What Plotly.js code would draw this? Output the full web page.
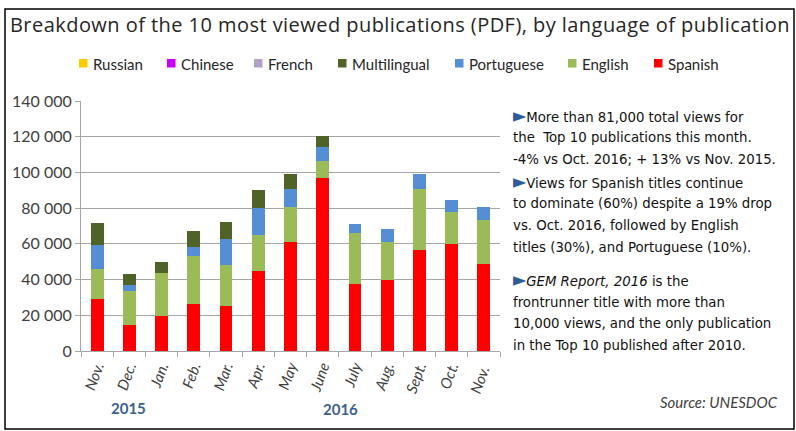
<!DOCTYPE html>
<html>
<head>
<meta charset="utf-8">
<script src="https://cdn.plot.ly/plotly-3.0.1.min.js"></script>
<style>
html,body{margin:0;padding:0;background:#fff}
#chart{width:796px;height:431px}
#chart .gtitle{letter-spacing:0.45px}
</style>
</head>
<body>
<div id="chart"></div>
<script>
const months = ["Nov.","Dec.","Jan.","Feb.","Mar.","Apr.","May","June","July","Aug.","Sept.","Oct.","Nov. "];
const spanish      = [28900,14700,19800,26500,25400,44900,60800,96900,37300,39700,56700,60200,48500];
const english      = [17100,19000,23800,26600,22700,20000,19600, 9300,28900,21100,34100,17900,24800];
const portuguese   = [13600, 3000,    0, 5200,14400,15400,10200, 7800, 5200, 7600, 8200, 6300, 7600];
const multilingual = [12300, 6300, 6000, 9000, 9500,10100, 8600, 6300,    0,    0,    0,    0,    0];
const french       = [0,0,0,0,0,0,0,0,0,0,0,0,0];
const chinese      = [0,0,0,0,0,0,0,0,0,0,0,0,0];
const russian      = [0,0,0,0,0,0,0,0,0,0,0,0,0];
const legendNames  = ["Russian","Chinese","French","Multilingual","Portuguese","English","Spanish"];
const legendColors = ["#FFCC00","#CC00FF","#B3A2C7","#4F6228","#558ED5","#9BBB59","#FF0000"];
const yearLabels   = ["2015","2016"];

const W = 796, H = 431, L = 81, R = 296, T = 101, B = 80;
const pw = W - L - R, ph = H - T - B;
const X = p => (p - L) / pw;
const Y = p => (H - B - p) / ph;

const seriesVals = {Spanish: spanish, English: english, Portuguese: portuguese, Multilingual: multilingual,
  French: french, Chinese: chinese, Russian: russian};
const stackOrder = ["Spanish","English","Portuguese","Multilingual","French","Chinese","Russian"];
const traces = stackOrder.map(name => ({
  type: "bar", name: name, x: months, y: seriesVals[name],
  marker: {color: legendColors[legendNames.indexOf(name)], line: {width: 0}},
  hoverinfo: "x+y+name", showlegend: false
}));

const annotations = [];
const shapes = [];

// legend (drawn manually to reproduce the compact single-row layout)
const legSq = [79, 167, 254, 338, 455, 568, 654];
legendNames.forEach((n, i) => {
  shapes.push({type: "rect", xref: "paper", yref: "paper", x0: X(legSq[i]), x1: X(legSq[i] + 8.5),
    y0: Y(67.5), y1: Y(59), fillcolor: legendColors[i], line: {width: 0}});
  annotations.push({text: n, xref: "paper", yref: "paper", x: X(legSq[i] + 12), y: Y(63.5),
    xanchor: "left", yanchor: "middle", showarrow: false,
    font: {family: "Lato, sans-serif", size: 15, color: "#262626"}});
});

const tri = '<span style="color:#2E5C99;font-size:19px">►</span>';
const bodyFont = {family: "DejaVu Sans Condensed, sans-serif", size: 14.8, color: "#111"};
const bodyLines = [
  [tri + "More than 81,000 total views for", 115],
  ["the  Top 10 publications this month.", 136.5],
  ["-4% vs Oct. 2016; + 13% vs Nov. 2015.", 158],
  [tri + "Views for Spanish titles continue", 180.5],
  ["to dominate (60%) despite a 19% drop", 202],
  ["vs. Oct. 2016, followed by English", 224],
  ["titles (30%), and Portuguese (10%).", 246],
  [tri + "<i>GEM Report, 2016</i> is the", 279],
  ["frontrunner title with more than", 301],
  ["10,000 views, and the only publication", 322.5],
  ["in the Top 10 published after 2010.", 344]
];
bodyLines.forEach(([t, yc]) => annotations.push({text: t, xref: "paper", yref: "paper", x: X(511), y: Y(yc),
  xanchor: "left", yanchor: "middle", align: "left", showarrow: false, font: bodyFont}));

annotations.push(
  {text: "<b>" + yearLabels[0] + "</b>", x: X(109), y: Y(419), xref: "paper", yref: "paper", showarrow: false,
   font: {family: "Lato, sans-serif", size: 15, color: "#3A5F8F"}},
  {text: "<b>" + yearLabels[1] + "</b>", x: X(340), y: Y(420), xref: "paper", yref: "paper", showarrow: false,
   font: {family: "Lato, sans-serif", size: 15, color: "#3A5F8F"}},
  {text: "<i>Source: UNESDOC</i>", x: X(780), y: Y(413), xref: "paper", yref: "paper", xanchor: "right", showarrow: false,
   font: {family: "Lato, sans-serif", size: 15, color: "#404040"}}
);

shapes.push({type: "rect", xref: "paper", yref: "paper", x0: X(5), x1: X(794), y0: Y(429), y1: Y(9),
  line: {color: "#000", width: 1.5}, fillcolor: "rgba(0,0,0,0)", layer: "below"});

const layout = {
  width: W, height: H,
  margin: {l: L, r: R, t: T, b: B, pad: 0},
  paper_bgcolor: "#fff", plot_bgcolor: "#fff",
  barmode: "stack", bargap: 0.6,
  separators: ". ",
  showlegend: false,
  title: {text: "Breakdown of the 10 most viewed publications (PDF), by language of publication",
    xref: "container", yref: "container", x: 10 / W, xanchor: "left", y: 1 - 25 / H, yanchor: "middle",
    font: {family: "Open Sans, sans-serif", size: 20, color: "#262626"}},
  xaxis: {type: "category", showgrid: false, showline: true, linecolor: "#A6A6A6", linewidth: 1,
    ticks: "outside", tickson: "boundaries", ticklen: 5, tickcolor: "#A6A6A6", tickangle: -70,
    tickfont: {family: "Lato, sans-serif", size: 15, color: "#404040", style: "italic"}},
  yaxis: {range: [0, 140000], dtick: 20000, tickformat: ",d", showgrid: true, gridcolor: "#A6A6A6", gridwidth: 1,
    showline: true, linecolor: "#A6A6A6", ticks: "outside", ticklen: 5, tickcolor: "#A6A6A6", zeroline: false,
    tickfont: {family: "Lato, sans-serif", size: 16, color: "#404040"}},
  annotations: annotations,
  shapes: shapes
};

Plotly.newPlot("chart", traces, layout, {displayModeBar: false, responsive: false});
</script>
</body>
</html>
